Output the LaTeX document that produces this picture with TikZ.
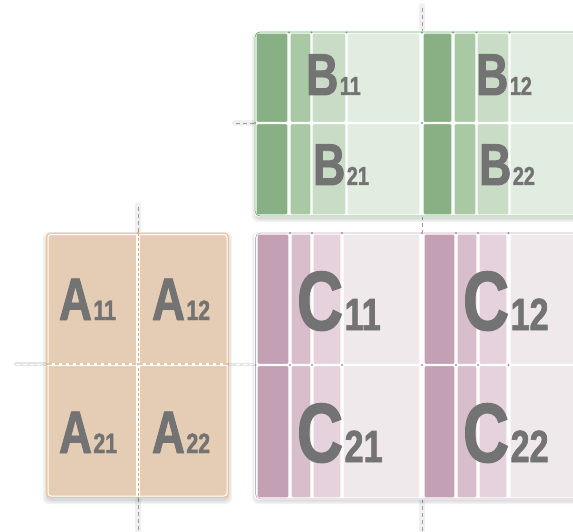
\documentclass[tikz,border=0pt]{standalone}
\usepackage{fontspec}
\newfontfamily\lblfont[FakeStretch=0.76,FakeBold=1.5]{Liberation Sans Bold}

% block palettes
\definecolor{Afill}{HTML}{E4CDB4}
\definecolor{Abd}{HTML}{F0B66E}
\definecolor{Adash}{HTML}{E9A860}
\definecolor{Bdk}{HTML}{88B084}
\definecolor{Bmd}{HTML}{A9C9A5}
\definecolor{Blt}{HTML}{C9DDC6}
\definecolor{Bxl}{HTML}{E1EDE0}
\definecolor{Bbd}{HTML}{72AD6E}
\definecolor{Cdk}{HTML}{C3A0B4}
\definecolor{Cmd}{HTML}{D8BDCB}
\definecolor{Clt}{HTML}{E5D2DC}
\definecolor{Cxl}{HTML}{EFE9EB}
\definecolor{Cbd}{HTML}{B08AAA}
\definecolor{ink}{HTML}{737373}
\definecolor{guide}{HTML}{9A9A9A}

% letter with a same-baseline index
\newcommand\mlabel[4]{\lblfont\fontsize{#3}{#3}\selectfont #1\kern1.5pt\fontsize{#4}{#4}\selectfont #2}

\tikzset{
  guideline/.style={guide, line width=0.7pt, dash pattern=on 4pt off 3pt},
  guidehalo/.style={black!6, line width=6pt, line cap=round},
  lightguide/.style={white, line width=0.9pt, dash pattern=on 4pt off 3pt},
  strip/.style={draw=white, line width=1.1pt, rounded corners=2pt},
  blockshadow/.style={fill=black, opacity=0.05, rounded corners=6pt},
  lbl/.style={anchor=base west, inner sep=0pt, outer sep=0pt, text=ink},
  knot/.style={radius=1.1pt},
}

\begin{document}
\begin{tikzpicture}[x=1pt, y=-1pt]
\useasboundingbox (0,0) rectangle (573,532);
\fill[white] (0,0) rectangle (573,532);

% ---------- guide lines ----------
\draw[guidehalo] (422,6) -- (422,30);
\draw[guidehalo] (235,123) -- (254,123);
\draw[guidehalo] (138,205) -- (138,230);
\draw[guidehalo] (138,500) -- (138,530);
\draw[guidehalo] (422,500) -- (422,530);
\draw[black!10, line width=4pt, line cap=round] (16,364) -- (46,364);
\draw[black!10, line width=3pt] (229,364) -- (255,364);

\draw[guideline] (422,8) -- (422,32);
\draw[guideline] (422,216) -- (422,233);
\draw[guideline] (422,499) -- (422,532);
\draw[guideline] (236,123) -- (255,123);
\draw[guideline] (138,207) -- (138,232);
\draw[guideline] (138,498) -- (138,532);
\draw[lightguide] (16,364) -- (46,364);
\draw[lightguide] (229,364) -- (255,364);

% ---------- shadows ----------
\foreach \g in {0,1.5,3}{
  \fill[blockshadow] (46-\g,233-\g+2) rectangle (229+\g,499+\g+2);
  \fill[blockshadow] (255-\g,33-\g+2) rectangle (600,217+\g+2);
  \fill[blockshadow] (255-\g,233-\g+2) rectangle (600,499+\g+2);
}

% ---------- block B ----------
\fill[white, rounded corners=5pt] (254,31) rectangle (600,217);
\foreach \ya/\yb in {33/122.5, 123.5/215}{
  \foreach \xa/\xb/\c in {256/288/Bdk, 290/311/Bmd, 312/346/Blt, 347/420/Bxl,
                          423/452/Bdk, 454/476/Bmd, 477/509/Blt, 510/600/Bxl}{
    \filldraw[strip, fill=\c] (\xa,\ya) rectangle (\xb,\yb);
  }
}
\draw[Bbd, line width=0.8pt, rounded corners=5pt] (600,32) -- (255,32) -- (255,216) -- (600,216);
\foreach \x in {289,311.5,346.5,422,453,476.5,509.5}{
  \fill[Bbd] (\x,32.5) circle[knot];
}
\fill[Bbd] (255,123) circle[knot];
\fill[Bbd] (422,123) circle[knot];

\node[lbl] (b11) at (306,95) {\mlabel{B}{11}{59}{26}};
\node[lbl] (b12) at (476,95) {\mlabel{B}{12}{59}{26}};
\node[lbl] (b21) at (313,185) {\mlabel{B}{21}{59}{26}};
\node[lbl] (b22) at (479,185) {\mlabel{B}{22}{59}{26}};

% ---------- block C ----------
\fill[white, rounded corners=5pt] (254,232) rectangle (600,500);
\foreach \ya/\yb in {234/364.5, 365.5/498}{
  \foreach \xa/\xb/\c in {257/289/Cdk, 291/311/Cmd, 313/341/Clt, 343/420/Cxl,
                          424/455/Cdk, 457/477/Cmd, 479/507/Clt, 510/600/Cxl}{
    \filldraw[strip, fill=\c] (\xa,\ya) rectangle (\xb,\yb);
  }
}
\draw[Cbd!70, line width=0.6pt, rounded corners=5pt] (600,233) -- (255.5,233) -- (255.5,499) -- (600,499);
\foreach \x in {290,312,342,422,456,478,508.5}{
  \fill[Cbd] (\x,233) circle[knot];
  \fill[Cbd] (\x,365) circle[knot];
}
\fill[Cbd] (255.5,365) circle[knot];

\node[lbl] (c11) at (297,330) {\mlabel{C}{11}{84}{45}};
\node[lbl] (c12) at (463,330) {\mlabel{C}{12}{84}{45}};
\node[lbl] (c21) at (297,462) {\mlabel{C}{21}{84}{45}};
\node[lbl] (c22) at (463,462) {\mlabel{C}{22}{84}{45}};

% ---------- block A ----------
\filldraw[fill=Afill, draw=Abd!80, line width=0.8pt, rounded corners=4pt] (46.5,233) rectangle (228.5,497.5);
\draw[white, line width=1pt, rounded corners=3pt] (48,234.5) rectangle (227,496);
\draw[white, line width=4pt] (138,233.5) -- (138,497);
\draw[Adash, line width=0.8pt, dash pattern=on 3pt off 2pt] (138,233) -- (138,498);
\draw[white, line width=3pt] (47,364) -- (228,364);
\draw[Afill!85!Adash, line width=1.3pt, dash pattern=on 4pt off 3pt] (48,364) -- (227,364);
\foreach \p in {(138,233),(138,364),(47,364),(228,364),(138,497.5)}{
  \fill[Adash] \p circle[knot];
}

\node[lbl] (a11) at (59,320) {\mlabel{A}{11}{60}{28}};
\node[lbl] (a12) at (152,320) {\mlabel{A}{12}{60}{28}};
\node[lbl] (a21) at (59,453) {\mlabel{A}{21}{60}{28}};
\node[lbl] (a22) at (152,453) {\mlabel{A}{22}{60}{28}};
\end{tikzpicture}
\end{document}
